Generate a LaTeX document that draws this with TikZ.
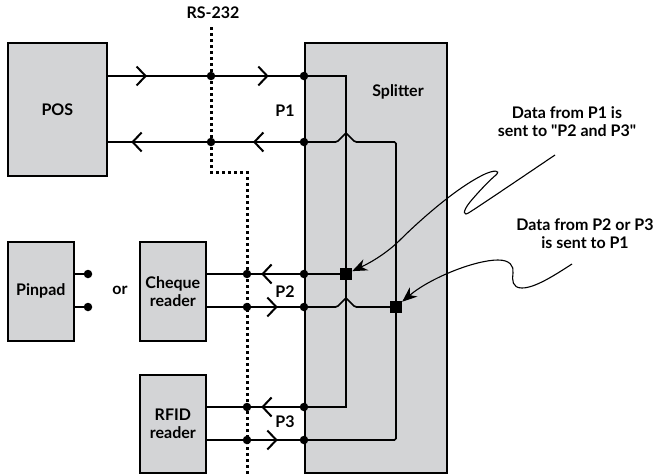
\documentclass[tikz,border=0pt]{standalone}
\usepackage{fontspec}
\setmainfont{Lato}
\usetikzlibrary{arrows.meta,decorations.markings,positioning}
\definecolor{boxgray}{RGB}{211,212,214}
\tikzset{
  device/.style={draw,fill=boxgray,line width=1.7pt,inner sep=0pt,anchor=north west,align=center},
  wire/.style={line width=1.7pt},
  portdot/.style={circle,fill,inner sep=0pt,minimum size=8.5pt},
  splitnode/.style={rectangle,fill,inner sep=0pt,minimum size=12pt},
  chev/.style={postaction={decorate,decoration={markings,mark=at position #1 with {\arrow{Straight Barb[length=9pt,width=19pt,line width=2pt]}}}}},
  busline/.style={line width=3pt,dash pattern=on 3pt off 3pt},
  callnote/.style={align=center},
  pointer/.style={line width=1.1pt,-{Stealth[length=15pt,width=12pt]}},
}

\begin{document}
\begin{tikzpicture}[x=1pt,y=-1pt,font=\bfseries\fontsize{16}{18}\selectfont]
\useasboundingbox (0,0) rectangle (659,474);
\node[device,minimum width=99pt,minimum height=133pt] (pos) at (7,42) {POS};
\node[device,minimum width=142pt,minimum height=430pt] (split) at (304,42) {};
\node[device,minimum width=66pt,minimum height=99pt] (pinpad) at (7,241) {Pinpad};
\node[device,minimum width=66pt,minimum height=99pt] (cheque) at (139,241) {Cheque\\reader};
\node[device,minimum width=66pt,minimum height=98pt] (rfid) at (139,374) {RFID\\reader};

\node (rs) at (213,13) {RS-232};
\node (splitlbl) at (398,92) {Splitter};
\node (p1) at (285,111) {P1};
\node (p2) at (285,292) {P2};
\node (p3) at (285,422) {P3};
\node (or) at (120,290) {or};

\coordinate (bustop) at (211,27);
\coordinate (busbend) at (247,172);
\coordinate (busend) at (247,474);
\draw[busline] (bustop) |- (busbend) -- (busend);

\coordinate (p1a) at (304,76);
\coordinate (p1b) at (304,142);
\coordinate (p2a) at (304,274);
\coordinate (p2b) at (304,307);
\coordinate (p3a) at (304,407);
\coordinate (p3b) at (304,440);
\coordinate (j1) at (346,274);
\coordinate (j2) at (396,307);

\draw[wire,chev=0.2,chev=0.82] (pos.east |- p1a) -- (p1a);
\draw[wire,chev=0.26,chev=0.88] (p1b) -- (pos.east |- p1b);
\draw[wire,chev=0.44] (p2a) -- (cheque.east |- p2a);
\draw[wire,chev=0.73] (cheque.east |- p2b) -- (p2b);
\draw[wire,chev=0.44] (p3a) -- (rfid.east |- p3a);
\draw[wire,chev=0.73] (rfid.east |- p3b) -- (p3b);

\draw[wire] (p1a) -| (j1) |- (p3a);
\draw[wire] (p2a) -- (j1);
\draw[wire,rounded corners=1.5pt] (p1b) -- ++(33,0) -- ++(9,-9) -- ++(9,9) -- (j2 |- p1b) -- (j2) |- (p3b);
\draw[wire,rounded corners=1.5pt] (p2b) -- ++(33,0) -- ++(9,-9) -- ++(9,9) -- (j2);

\node[portdot] (d1) at (211,76) {};
\node[portdot] (d2) at (211,142) {};
\node[portdot] (d3) at (247,274) {};
\node[portdot] (d4) at (247,307) {};
\node[portdot] (d5) at (247,407) {};
\node[portdot] (d6) at (247,440) {};
\foreach \q in {p1a,p1b,p2a,p2b,p3a,p3b}
  \node[portdot] (d-\q) at (\q) {};
\node[splitnode] (sq1) at (j1) {};
\node[splitnode] (sq2) at (j2) {};

\node[portdot] (pp1) at (88,274) {};
\node[portdot] (pp2) at (88,307) {};
\draw[wire] (pinpad.east |- pp1) -- (pp1);
\draw[wire] (pinpad.east |- pp2) -- (pp2);

\node[callnote] (n1) at (567,122) {Data from P1 is\\sent to \textquotedbl P2 and P3\textquotedbl};
\node[callnote] (n2) at (585,234) {Data from P2 or P3\\is sent to P1};
\coordinate (c1) at (555,155);
\coordinate (c2) at (572,264);
\draw[pointer] (c1) .. controls (515,182) and (478,207) .. (470,212)
  .. controls (463,217) and (462,212) .. (470,202)
  .. controls (480,190) and (492,178) .. (496,175)
  .. controls (501,170) and (494,170) .. (485,174)
  .. controls (455,188) and (415,225) .. (400,240)
  .. controls (388,252) and (372,262) .. (sq1);
\draw[pointer] (c2) .. controls (555,275) and (535,288) .. (522,288)
  .. controls (512,288) and (512,280) .. (513,273)
  .. controls (514,266) and (510,260) .. (498,260)
  .. controls (475,260) and (430,278) .. (sq2);
\end{tikzpicture}
\end{document}
